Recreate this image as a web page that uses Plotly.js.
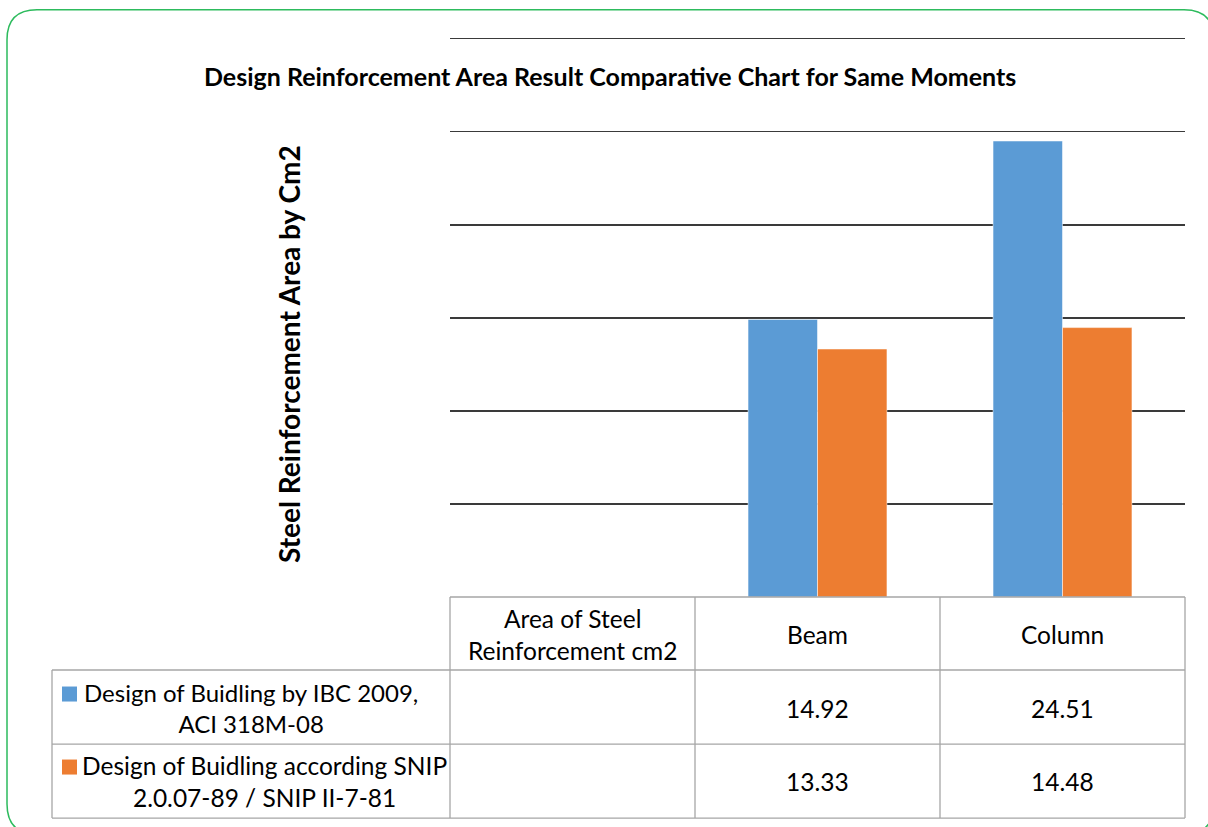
<!DOCTYPE html>
<html><head><meta charset="utf-8">
<script src="https://cdn.plot.ly/plotly-3.0.1.min.js"></script>
<style>html,body{margin:0;padding:0;background:#fff;}#chart{width:1208px;height:827px;}</style>
</head><body><div id="chart"></div>
<script>
// ---- data ----
const categories = ["Area of Steel<br>Reinforcement cm2", "Beam", "Column"];
const seriesNames = ["Design of Buidling by IBC 2009,<br>ACI 318M-08", "Design of Buidling according SNIP<br>2.0.07-89 / SNIP II-7-81"];
const ibcValues = [null, 14.92, 24.51];
const snipValues = [null, 13.33, 14.48];
const seriesColors = ["#5b9bd5", "#ed7d31"];

// ---- layout geometry (pixels) ----
const W = 1208, H = 827;
const L = 450, R = 1185, B = 597;
const unitPx = 18.6, yMax = 30.1;
const T = B - unitPx * yMax;
const px = p => (p - L) / (R - L);
const py = p => (B - p) / (B - T);
const font = "Lato, 'Liberation Sans', sans-serif";
const gridC = "#a6a6a6";
const tsize = 24.5;

const traces = [
  {type: "bar", x: categories, y: ibcValues, name: seriesNames[0],
   marker: {color: seriesColors[0], line: {color: "rgba(255,255,255,0.5)", width: 1}}, hoverinfo: "skip"},
  {type: "bar", x: categories, y: snipValues, name: seriesNames[1],
   marker: {color: seriesColors[1], line: {color: "rgba(255,255,255,0.5)", width: 1}}, hoverinfo: "skip"}
];

const shapes = [];
function line(x0, y0, x1, y1, color, w) {
  shapes.push({type: "line", xref: "paper", yref: "paper", x0: px(x0), y0: py(y0), x1: px(x1), y1: py(y1),
    line: {color: color, width: w}});
}
// table grid
const colEdges = [L, 695, 940, R];
const rowEdges = [597, 670, 744, 818];
line(L, 597, R, 597, gridC, 1.3);
for (let i = 1; i < rowEdges.length; i++) line(52, rowEdges[i], R, rowEdges[i], gridC, 1.3);
colEdges.forEach(x => line(x, 597, x, 818, gridC, 1.3));
line(52, 670, 52, 818, gridC, 1.3);
// legend keys
const keyRowsY = [694, 767];
keyRowsY.forEach((y, i) => {
  shapes.push({type: "rect", xref: "paper", yref: "paper", x0: px(62), x1: px(77), y0: py(y - 7.5), y1: py(y + 7.5),
    fillcolor: seriesColors[i], line: {width: 0}});
});
// rounded outer border
(function () {
  const x0 = 7, y0 = 10, x1 = 1214, y1 = 834, r = 30;
  const P = (x, y) => px(x) + "," + py(y);
  const path = "M " + P(x0 + r, y0) + " L " + P(x1 - r, y0) + " Q " + P(x1, y0) + " " + P(x1, y0 + r) +
    " L " + P(x1, y1 - r) + " Q " + P(x1, y1) + " " + P(x1 - r, y1) +
    " L " + P(x0 + r, y1) + " Q " + P(x0, y1) + " " + P(x0, y1 - r) +
    " L " + P(x0, y0 + r) + " Q " + P(x0, y0) + " " + P(x0 + r, y0) + " Z";
  shapes.push({type: "path", xref: "paper", yref: "paper", path: path, line: {color: "#2dbb5d", width: 1.5}});
})();

const annotations = [];
function txt(text, x, y, size, opts) {
  annotations.push(Object.assign({xref: "paper", yref: "paper", x: px(x), y: py(y), text: text, showarrow: false,
    xanchor: "center", yanchor: "middle", font: {family: font, size: size, color: "#000"}}, opts || {}));
}
// title and axis title
txt("<b>Design Reinforcement Area Result Comparative Chart for Same Moments</b>", 610, 76, 25);
txt("<b>Steel Reinforcement Area by Cm2</b>", 289, 354, 28, {textangle: -90});
// header row
const colCenters = [572, 817, 1062];
categories.forEach((c, i) => txt(c, colCenters[i], 634, tsize));
// data rows
const rowCenters = [708, 781];
[ibcValues, snipValues].forEach((vals, r) => {
  vals.forEach((v, i) => { if (v !== null) txt(v.toFixed(2), colCenters[i], rowCenters[r], tsize); });
});
const legendCenters = [251, 264];
const legendSizes = [24, 24.5];
seriesNames.forEach((n, i) => txt(n, legendCenters[i], rowCenters[i], legendSizes[i]));

const layout = {
  width: W, height: H,
  margin: {l: L, r: W - R, t: T, b: H - B, pad: 0},
  paper_bgcolor: "#fff", plot_bgcolor: "#fff",
  showlegend: false,
  barmode: "group", bargap: 0.433, bargroupgap: 0,
  xaxis: {type: "category", showticklabels: false, showgrid: false, zeroline: false, showline: false, ticks: "", fixedrange: true},
  yaxis: {range: [0, yMax], dtick: 5, showticklabels: false, showgrid: true, gridcolor: "#3a3a3a", gridwidth: 1.2,
          zeroline: false, showline: false, ticks: "", fixedrange: true},
  shapes: shapes, annotations: annotations
};
Plotly.newPlot("chart", traces, layout, {staticPlot: true, displayModeBar: false});
</script></body></html>
